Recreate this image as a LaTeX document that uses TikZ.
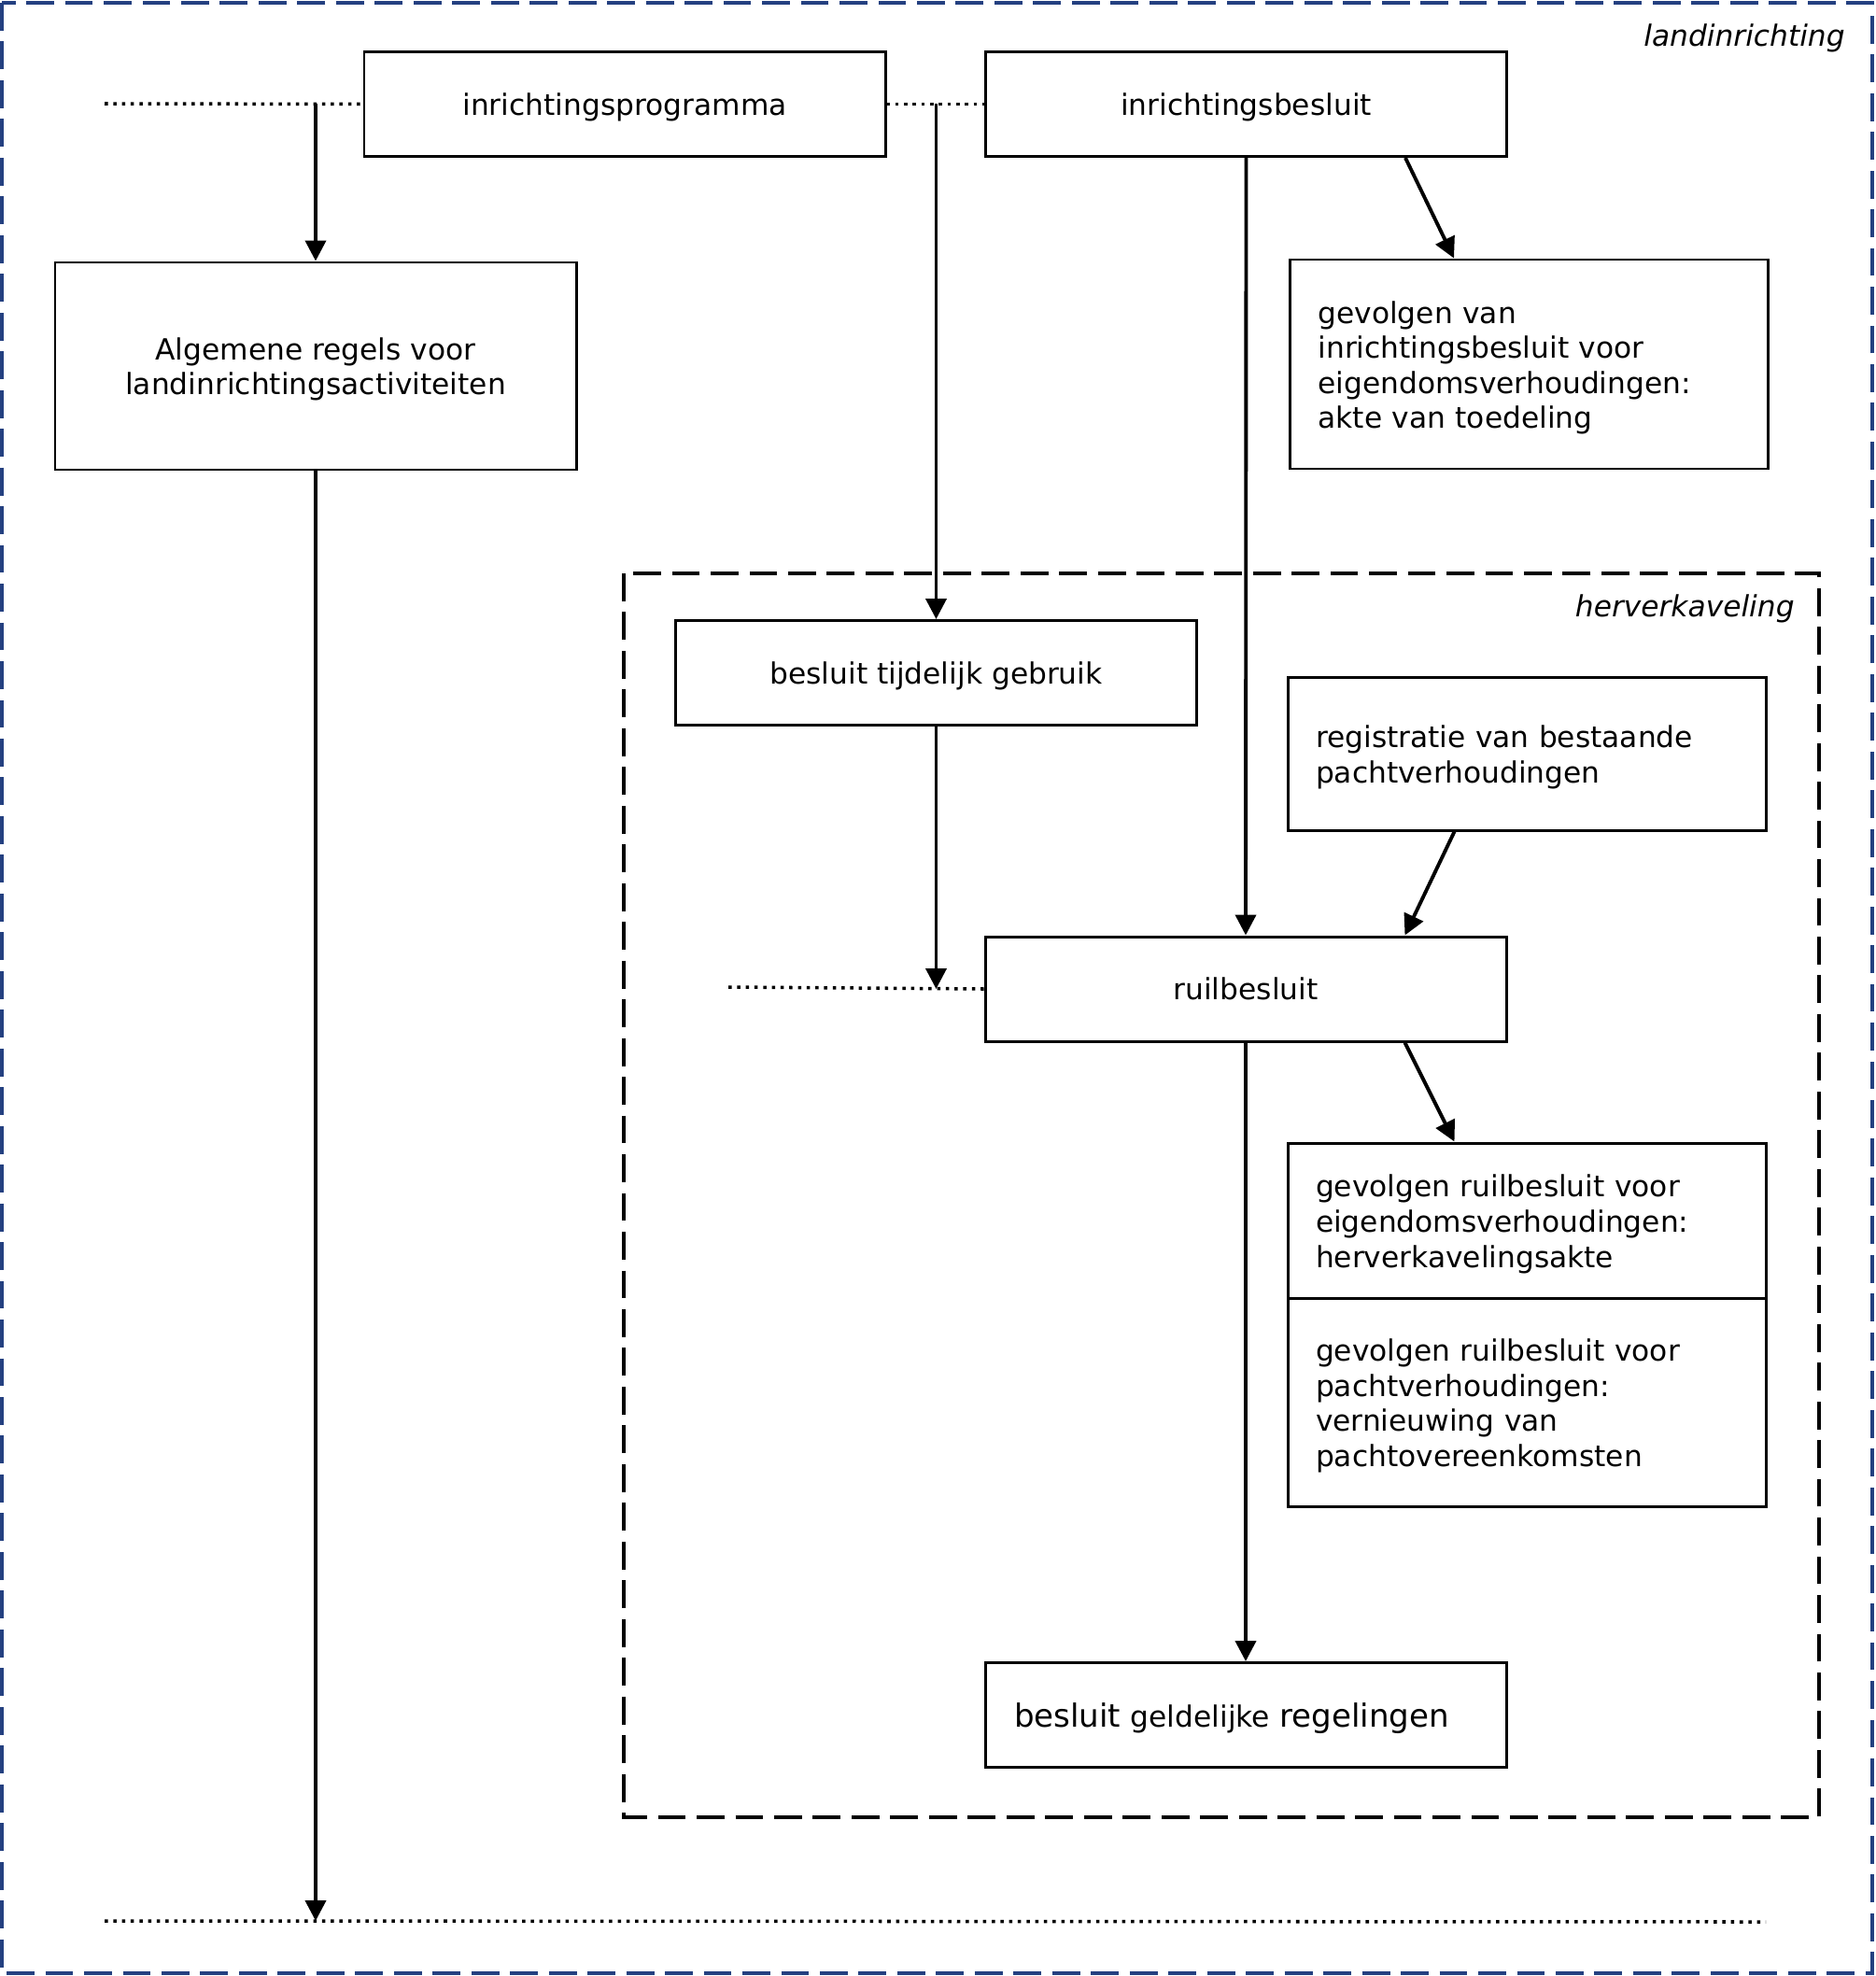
\documentclass[tikz,border=0pt]{standalone}
\usepackage{fontspec}
\setmainfont{DejaVu Sans}
\usetikzlibrary{arrows.meta}
\definecolor{frameblue}{RGB}{36,64,128}

\begin{document}
\begin{tikzpicture}[
        x=1cm, y=-1cm,
        every node/.style={font=\fontsize{8.9}{10.7}\selectfont},
        frm/.style={
            draw,
            line width=0.85pt,
            rectangle,
            minimum width=5.58cm,
            minimum height=1.12cm,
            anchor=center
        },
        box/.style={
            frm,
            text depth=0pt,
            align=center
        },
        textbox/.style={
            frm,
            minimum width=5.12cm,
            text width=4.52cm,
            inner xsep=0.3cm,
            align=left,
            execute at begin node={\rule{0pt}{9pt}}
        },
        flow/.style={line width=1.1pt, -{Triangle[length=0.22cm, width=0.22cm]}},
        dots/.style={line width=1pt, dash pattern=on 1pt off 1.65pt},
        frame/.style={line width=1.1pt, dash pattern=on 8.5pt off 3.3pt},
        area/.style={font=\fontsize{8.9}{10.7}\selectfont\itshape, anchor=base east}
    ]

    % (0,0) at left top corner, y runs down
    \useasboundingbox (0,0) rectangle (20.08,21.16);

    % --- frames ---
    \draw[frame, frameblue] (0.02,0.03) rectangle (20.05,21.13);
    \draw[frame] (6.68,6.14) rectangle (19.48,19.46);
    \node[area] (landlbl) at (19.88,0.50) {landinrichting};
    \node[area] (herlbl) at (19.34,6.60) {herverkaveling};

    % --- boxes ---
    \node[box] (prog) at (6.69,1.115) {inrichtingsprogramma};
    \node[box] (besl) at (13.345,1.115) {inrichtingsbesluit};
    \node[box, minimum height=2.22cm] (alg) at (3.38,3.92)
        {Algemene regels voor\\landinrichtingsactiviteiten};
    \node[textbox, minimum height=2.24cm] (gevi) at (16.375,3.90)
        {gevolgen van\\inrichtingsbesluit voor\\eigendomsverhoudingen:\\akte van toedeling};
    \node[box] (tijd) at (10.025,7.205) {besluit tijdelijk gebruik};
    \node[textbox, minimum height=1.64cm] (reg) at (16.35,8.07)
        {registratie van bestaande\\pachtverhoudingen};
    \node[box] (ruil) at (13.34,10.59) {ruilbesluit};
    \node[textbox, minimum height=1.66cm] (gevr1) at (16.35,13.07)
        {gevolgen ruilbesluit voor\\eigendomsverhoudingen:\\herverkavelingsakte};
    \node[textbox, minimum height=2.23cm] (gevr2) at (16.35,15.015)
        {gevolgen ruilbesluit voor\\pachtverhoudingen:\\vernieuwing van\\pachtovereenkomsten};
    \node[box, text width=4.96cm, inner xsep=0.31cm, align=left] (geld) at (13.34,18.365)
        {{\fontsize{9.7}{11}\selectfont besluit} geldelijke {\fontsize{9.7}{11}\selectfont regelingen}};

    % free ends of the dotted lines
    \coordinate (topL) at (1.12,1.11);
    \coordinate (midL) at (7.80,10.57);
    \coordinate (botL) at (1.12,20.57);
    \coordinate (botR) at (18.91,20.58);

    % --- dotted lines ---
    \draw[dots] (topL) -- (prog.west);
    \draw[dots] (prog.east) -- (besl.west);
    \draw[dots] (midL) -- (ruil.west);
    \draw[dots] (botL) -- (botR);

    % --- arrows ---
    \draw[flow] (alg.north |- prog.west) -- (alg.north);
    \draw[flow] (tijd.north |- prog.east) -- (tijd.north);
    \draw[flow] (besl.south) -- (ruil.north);
    \draw[flow] ([xshift=-1.1cm]besl.south east) -- ([xshift=1.77cm]gevi.north west);
    \draw[flow] ([xshift=1.8cm]reg.south west) -- ([xshift=-1.1cm]ruil.north east);
    \draw[flow] ([xshift=-1.1cm]ruil.south east) -- ([xshift=1.8cm]gevr1.north west);
    \draw[flow] (tijd.south) -- (tijd.south |- ruil.west);
    \draw[flow] (ruil.south) -- (geld.north);
    \draw[flow] (alg.south) -- (alg.south |- botL);

\end{tikzpicture}
\end{document}
